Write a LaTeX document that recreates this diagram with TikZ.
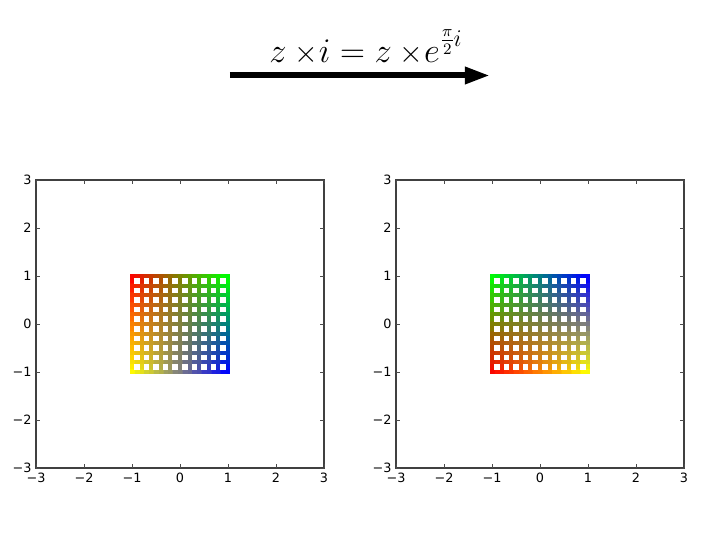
\documentclass[tikz,border=0pt]{standalone}
\usepackage{fontspec}
\usepackage{graphicx}
\newfontfamily\dejavu{DejaVu Sans}
\usetikzlibrary{arrows.meta}
\newcommand\gridcol[2]{%
  \pgfmathsetmacro\gcU{((#1)+1)/2}%
  \pgfmathsetmacro\gcV{((#2)+1)/2}%
  \pgfmathsetmacro\gcR{max(0,min(1,1-\gcU))}%
  \pgfmathsetmacro\gcG{max(0,min(1,(1-\gcU)*(1-\gcV)+\gcU*\gcV))}%
  \pgfmathsetmacro\gcB{max(0,min(1,\gcU*(1-\gcV)))}%
  \definecolor{gc}{rgb}{\gcR,\gcG,\gcB}}
\newcommand\smtimes{\mathord{\scalebox{0.88}{$\times$}}}
\tikzset{
  gridline/.style={line width=2pt,line cap=rect},
  frame/.style={draw=black!75,line width=0.65pt},
  tickmark/.style={draw=black!70,line width=0.4pt},
  ticklabel/.style={font=\dejavu\fontsize{6.4}{7.5}\selectfont,inner sep=0pt,text=black},
  arrowline/.style={line width=3pt,-{Triangle[length=12.5pt,width=8pt]}}
}
\newcommand\axesbox{%
  \draw[frame] (-3,-3) rectangle (3,3);
  \foreach \k in {-3,...,3}{
    \draw[tickmark] (\k,-3) -- (\k,-2.917);
    \draw[tickmark] (\k,3) -- (\k,2.917);
    \draw[tickmark] (-3,\k) -- (-2.917,\k);
    \draw[tickmark] (3,\k) -- (2.917,\k);
  }
  \foreach \k/\lab in {-3/−3,-2/−2,-1/−1,0/0,1/1,2/2,3/3}{
    \node[ticklabel,anchor=base] at (\k,-3.31) {\lab};
    \node[ticklabel,anchor=base east] at (-3.083,\k-0.1) {\lab};
  }}
\begin{document}
\begin{tikzpicture}[x=0.5pt,y=0.5pt]
\useasboundingbox (0,0) rectangle (720,540);
\fill[white] (0,0) rectangle (720,540);
% title and arrow
\node[anchor=base west,inner sep=0pt,font=\fontsize{17}{20}\selectfont] (title) at (269,477)
  {$z\mkern4mu\smtimes\mkern0.5mu i = z\mkern4mu\smtimes\mkern0.5mu e^{\raisebox{2pt}{$\scriptstyle\frac{\pi}{2}\mkern-1mu i$}}$};
\coordinate (as) at (230,464.5);
\coordinate (ae) at (490,464.5);
\draw[arrowline] (as) -- (ae);
% left plot
\begin{scope}[shift={(90pt,108pt)},x=24pt,y=24pt]
  \foreach \i in {0,...,10}{
    \foreach \j in {0,...,19}{
      \pgfmathsetmacro\gA{-1+0.2*\i}
      \pgfmathsetmacro\gT{-1+0.1*\j}
      \pgfmathsetmacro\gTT{\gT+0.1}
      \pgfmathsetmacro\gM{\gT+0.05}
      \gridcol{\gM}{\gA}
      \draw[gridline,gc] (\gT,\gA) -- (\gTT,\gA);
      \gridcol{\gA}{\gM}
      \draw[gridline,gc] (\gA,\gT) -- (\gA,\gTT);
    }}
  \axesbox
\end{scope}
% right plot
\begin{scope}[shift={(270pt,108pt)},x=24pt,y=24pt]
  \foreach \i in {0,...,10}{
    \foreach \j in {0,...,19}{
      \pgfmathsetmacro\gA{-1+0.2*\i}
      \pgfmathsetmacro\gT{-1+0.1*\j}
      \pgfmathsetmacro\gTT{\gT+0.1}
      \pgfmathsetmacro\gM{\gT+0.05}
      \gridcol{\gA}{-(\gM)}
      \draw[gridline,gc] (\gT,\gA) -- (\gTT,\gA);
      \gridcol{\gM}{-(\gA)}
      \draw[gridline,gc] (\gA,\gT) -- (\gA,\gTT);
    }}
  \axesbox
\end{scope}
\end{tikzpicture}
\end{document}
